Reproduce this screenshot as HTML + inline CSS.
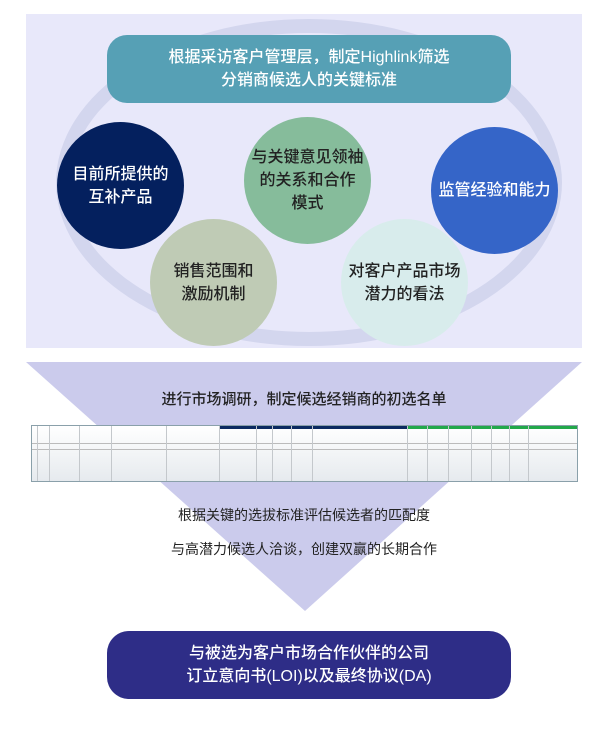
<!DOCTYPE html>
<html><head><meta charset="utf-8"><style>
body{margin:0;background:#fff;width:608px;height:738px;position:relative;overflow:hidden;font-family:"Liberation Sans","Noto Sans CJK SC",sans-serif}
.a{position:absolute}
.c{position:absolute;border-radius:50%;display:flex;align-items:center;justify-content:center;text-align:center;font-size:16px;line-height:23px;font-weight:500}
.t{position:absolute;left:0;width:608px;text-align:center;font-size:14px;color:#222}
.v{position:absolute;top:0;width:1px;height:55px;background:#c4c8cc}
</style></head><body>
<div class="a" style="left:26px;top:14px;width:556px;height:334px;background:#e8e8fa"></div>
<div class="a" style="left:56px;top:19px;width:478px;height:299px;border:14px solid #d3d6ee;border-radius:50%"></div>
<div class="a" style="left:107px;top:35px;width:404px;height:68px;background:#56a0b5;border-radius:20px;color:#fff;font-size:16px;line-height:23px;text-align:center;display:flex;align-items:center;justify-content:center;font-weight:500">根据采访客户管理层，制定Highlink筛选<br>分销商候选人的关键标准</div>
<div class="c" style="left:57px;top:122px;width:127px;height:127px;background:#04205e;color:#fff">目前所提供的<br>互补产品</div>
<div class="c" style="left:244px;top:117px;width:127px;height:127px;background:#86bc9b;color:#222">与关键意见领袖<br>的关系和合作<br>模式</div>
<div class="c" style="left:431px;top:127px;width:127px;height:127px;background:#3565c8;color:#fff">监管经验和能力</div>
<div class="c" style="left:150px;top:219px;width:127px;height:127px;background:#bfcbb5;color:#222">销售范围和<br>激励机制</div>
<div class="c" style="left:341px;top:219px;width:127px;height:127px;background:#d8ecec;color:#222">对客户产品市场<br>潜力的看法</div>
<svg class="a" style="left:0;top:0" width="608" height="738"><polygon points="26,362 582,362 305,611" fill="#cbcbec"/></svg>
<div class="t" style="top:388px;font-size:15px;font-weight:500">进行市场调研，制定候选经销商的初选名单</div>
<div class="a" style="left:31px;top:425px;width:545px;height:55px;border:1px solid #8aa0aa;background:linear-gradient(#fff,#e6eaee)">
<div class="a" style="left:187px;top:0;width:188px;height:3px;background:#0b2a60"></div>
<div class="a" style="left:375px;top:0;width:170px;height:3px;background:#22a84a"></div>
<div class="a" style="left:0;top:17px;width:545px;height:1px;background:#bbb"></div>
<div class="a" style="left:0;top:23px;width:545px;height:1px;background:#bbb"></div>
<div class="v" style="left:5px"></div><div class="v" style="left:17px"></div><div class="v" style="left:47px"></div><div class="v" style="left:79px"></div><div class="v" style="left:134px"></div><div class="v" style="left:187px"></div><div class="v" style="left:224px"></div><div class="v" style="left:240px"></div><div class="v" style="left:259px"></div><div class="v" style="left:280px"></div><div class="v" style="left:375px"></div><div class="v" style="left:395px"></div><div class="v" style="left:416px"></div><div class="v" style="left:439px"></div><div class="v" style="left:459px"></div><div class="v" style="left:477px"></div><div class="v" style="left:496px"></div>
</div>
<div class="t" style="top:505px">根据关键的选拔标准评估候选者的匹配度</div>
<div class="t" style="top:539px">与高潜力候选人洽谈，创建双赢的长期合作</div>
<div class="a" style="left:107px;top:631px;width:404px;height:68px;background:#2e2d87;border-radius:22px;color:#fff;font-size:16px;line-height:23px;text-align:center;display:flex;align-items:center;justify-content:center;font-weight:500">与被选为客户市场合作伙伴的公司<br>订立意向书(LOI)以及最终协议(DA)</div>
</body></html>
